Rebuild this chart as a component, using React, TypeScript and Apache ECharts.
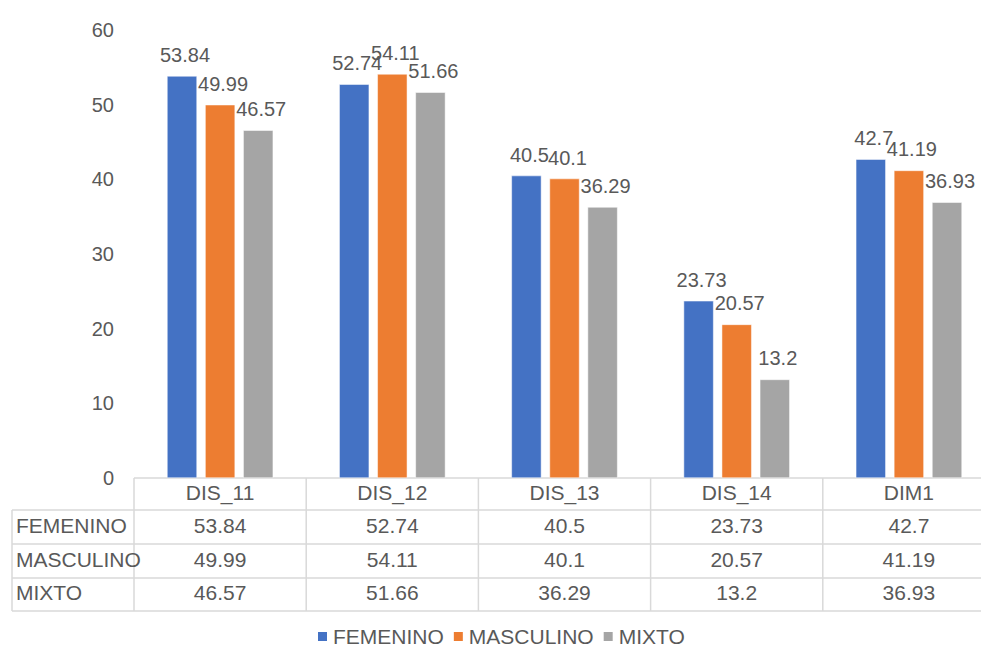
import React, { useEffect, useRef } from "react";
import * as echarts from "echarts";

const categories = ["DIS_11", "DIS_12", "DIS_13", "DIS_14", "DIM1"];
const seriesNames = ["FEMENINO", "MASCULINO", "MIXTO"];
const femenino = [53.84, 52.74, 40.5, 23.73, 42.7];
const masculino = [49.99, 54.11, 40.1, 20.57, 41.19];
const mixto = [46.57, 51.66, 36.29, 13.2, 36.93];
const seriesColors = ["#4472C4", "#ED7D31", "#A5A5A5"];
const yMin = 0;
const yMax = 60;
const yInterval = 10;

const FONT = "Liberation Sans, Arial, sans-serif";
const TEXT_COLOR = "#595959";
const LINE_COLOR = "#d9d9d9";

export default function App() {
  const ref = useRef<HTMLDivElement>(null);
  useEffect(() => {
    if (!ref.current) return;
    const chart = echarts.init(ref.current, undefined, { renderer: "svg" });
    const allSeries = [femenino, masculino, mixto];
    const gridLeft = 134;
    const gridTop = 30;
    const gridBottom = 648 - 478;
    chart.setOption({
      animation: false,
      textStyle: { fontFamily: FONT },
      grid: {
        left: gridLeft,
        width: 861,
        top: gridTop,
        bottom: gridBottom,
        containLabel: false,
        outerBoundsMode: "none",
      },
      legend: {
        data: seriesNames,
        left: 311,
        top: 621,
        itemWidth: 11,
        itemHeight: 11,
        itemGap: 8,
        icon: "rect",
        textStyle: { fontSize: 21, lineHeight: 16, color: TEXT_COLOR, fontFamily: FONT },
      },
      xAxis: {
        type: "category",
        data: categories,
        axisLine: { show: false },
        axisTick: { show: false },
        axisLabel: { show: false },
        splitLine: { show: false },
      },
      yAxis: {
        type: "value",
        min: yMin,
        max: yMax,
        interval: yInterval,
        axisLine: { show: false },
        axisTick: { show: false },
        splitLine: { show: false },
        axisLabel: { fontSize: 20, color: TEXT_COLOR, margin: 20, fontFamily: FONT, padding: [0, 0, 4, 0] },
      },
      series: allSeries.map((d, i) => ({
        name: seriesNames[i],
        type: "bar",
        data: d,
        barWidth: 30,
        barGap: "27%",
        itemStyle: { color: seriesColors[i], borderColor: "#ffffff", borderWidth: 0.5 },
        label: {
          show: true,
          position: "top",
          distance: 11,
          offset: [3, 0],
          fontSize: 20,
          color: TEXT_COLOR,
          fontFamily: FONT,
        },
      })),
    });

    // Data table below the plot, drawn with graphic elements
    const centers = categories.map((c) => chart.convertToPixel({ xAxisIndex: 0 }, c) as number);
    const band = centers.length > 1 ? centers[1] - centers[0] : 172;
    const rowYs = [478, 510, 544, 578, 611];
    const tableLeft = 12;
    const tableRight = centers[centers.length - 1] + band / 2;
    const graphics: any[] = [];
    const lineStyle = { stroke: LINE_COLOR, lineWidth: 1.5 };
    graphics.push({ type: "line", shape: { x1: gridLeft, y1: rowYs[0], x2: tableRight, y2: rowYs[0] }, style: lineStyle, silent: true });
    for (let r = 1; r < rowYs.length; r++) {
      graphics.push({ type: "line", shape: { x1: tableLeft, y1: rowYs[r], x2: tableRight, y2: rowYs[r] }, style: lineStyle, silent: true });
    }
    graphics.push({ type: "line", shape: { x1: tableLeft, y1: rowYs[1], x2: tableLeft, y2: rowYs[4] }, style: lineStyle, silent: true });
    centers.forEach((cx, i) => {
      const xl = cx - band / 2;
      graphics.push({ type: "line", shape: { x1: xl, y1: rowYs[0], x2: xl, y2: rowYs[4] }, style: lineStyle, silent: true });
      if (i === centers.length - 1) {
        const xr = cx + band / 2;
        graphics.push({ type: "line", shape: { x1: xr, y1: rowYs[0], x2: xr, y2: rowYs[4] }, style: lineStyle, silent: true });
      }
    });
    const textStyleBase = { fontSize: 21, fill: TEXT_COLOR, fontFamily: FONT };
    centers.forEach((cx, i) => {
      graphics.push({
        type: "text",
        x: cx,
        y: (rowYs[0] + rowYs[1]) / 2 - 2,
        style: { ...textStyleBase, text: categories[i], align: "center", verticalAlign: "middle" },
        silent: true,
      });
      allSeries.forEach((d, s) => {
        graphics.push({
          type: "text",
          x: cx,
          y: (rowYs[s + 1] + rowYs[s + 2]) / 2 - 2,
          style: { ...textStyleBase, text: String(d[i]), align: "center", verticalAlign: "middle" },
          silent: true,
        });
      });
    });
    seriesNames.forEach((n, s) => {
      graphics.push({
        type: "text",
        x: tableLeft + 4,
        y: (rowYs[s + 1] + rowYs[s + 2]) / 2 - 2,
        style: { ...textStyleBase, text: n, align: "left", verticalAlign: "middle" },
        silent: true,
      });
    });
    chart.setOption({ graphic: { elements: graphics } });

    return () => chart.dispose();
  }, []);
  return (
    <div
      ref={ref}
      style={{ position: "fixed", left: 0, top: 0, width: 981, height: 648, background: "#ffffff" }}
    />
  );
}
